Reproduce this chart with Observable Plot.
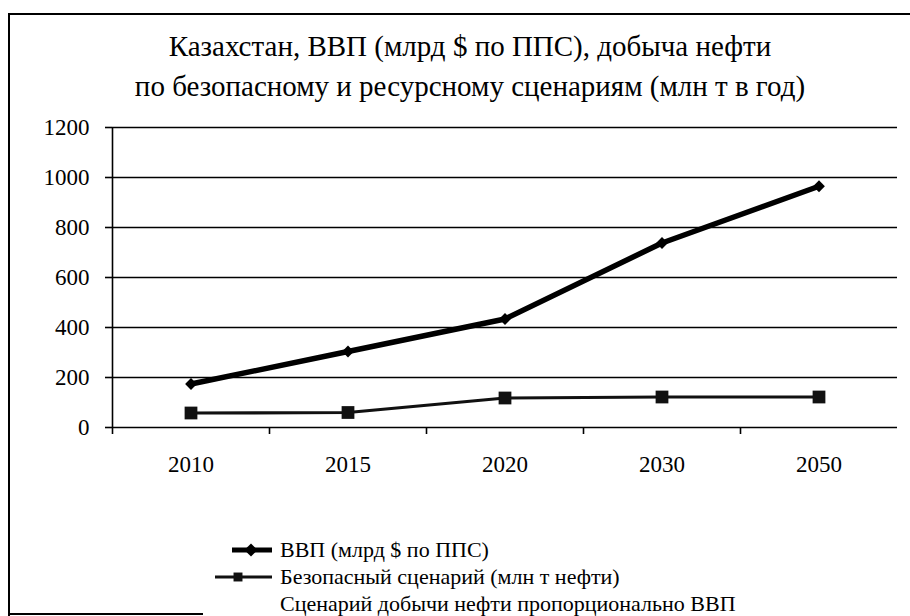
<!DOCTYPE html>
<html>
<head>
<meta charset="utf-8">
<script src="https://cdn.jsdelivr.net/npm/d3@7"></script>
<script src="https://cdn.jsdelivr.net/npm/@observablehq/plot@0.6"></script>
<style>
  body { margin: 0; background: #fff; }
  #wrap { position: relative; width: 910px; height: 616px; overflow: hidden; font-family: "Liberation Serif", serif; color: #000; background: #fff; }
  #frame { position: absolute; left: 8px; top: 13px; width: 940px; height: 603px; border-left: 2px solid #000; border-top: 2px solid #000; box-sizing: border-box; }
  #bottomEdge { position: absolute; left: 8px; top: 613px; width: 195px; height: 2px; background: #000; }
  #title { position: absolute; left: 0; width: 940px; top: 26px; text-align: center; font-size: 29px; line-height: 40px; }
  #chart { position: absolute; left: 0; top: 110px; }
  #legend { position: absolute; left: 205px; top: 536px; font-size: 22px; }
  .row { display: flex; align-items: center; height: 27px; white-space: nowrap; }
  .row svg { display: block; flex: none; margin-right: 8px; }
</style>
</head>
<body>
<div id="wrap">
  <div id="frame"></div>
  <div id="bottomEdge"></div>
  <div id="title">Казахстан, ВВП (млрд $ по ППС), добыча нефти<br>по безопасному и ресурсному сценариям (млн т в год)</div>
  <div id="chart"></div>
  <div id="legend"></div>
</div>
<script>
const years = ["2010", "2015", "2020", "2030", "2050"];
const gdp = [174, 304, 434, 738, 965];
const safe = [58, 60, 118, 122, 122];
const yTicks = [0, 200, 400, 600, 800, 1000, 1200];
const seriesNames = [
  "ВВП (млрд $ по ППС)",
  "Безопасный сценарий (млн т нефти)",
  "Сценарий добычи нефти пропорционально ВВП"
];

const idx = years.map((_, i) => i);
const gdpData = idx.map(i => ({i, v: gdp[i]}));
const safeData = idx.map(i => ({i, v: safe[i]}));
const bounds = [-0.5, ...d3.range(1, years.length).map(i => i - 0.5)];

const chart = Plot.plot({
  width: 910,
  height: 373,
  marginLeft: 112,
  marginRight: 13,
  marginTop: 17,
  marginBottom: 56,
  x: {domain: [-0.5, years.length - 0.5]},
  y: {domain: [0, 1200]},
  style: {fontFamily: "Liberation Serif, serif", fontSize: "23px", color: "#000", background: "transparent", overflow: "visible"},
  marks: [
    Plot.gridY(yTicks, {stroke: "#000", strokeOpacity: 1, strokeWidth: 1.6}),
    Plot.axisY(yTicks, {tickSize: 7, tickPadding: 16, label: null, strokeWidth: 1.6, fontSize: 23, tickFormat: d => String(d)}),
    Plot.ruleX([-0.5], {y1: 0, y2: 1200, stroke: "#000", strokeWidth: 1.6}),
    Plot.axisX(idx, {tickSize: 0, tickPadding: 28, label: null, fontSize: 23, tickFormat: i => years[i]}),
    Plot.axisX(bounds, {tickSize: 7, label: null, strokeWidth: 1.6, tickFormat: () => ""}),
    Plot.line(safeData, {x: "i", y: "v", stroke: "#111", strokeWidth: 3.2}),
    Plot.dot(safeData, {x: "i", y: "v", symbol: "square", fill: "#111", r: 7.2}),
    Plot.line(gdpData, {x: "i", y: "v", stroke: "#000", strokeWidth: 5.5}),
    Plot.dot(gdpData, {x: "i", y: "v", symbol: "diamond2", fill: "#000", r: 5.3})
  ]
});
document.getElementById("chart").appendChild(chart);

// legend
const legend = d3.select("#legend");
const swatches = [
  svg => {
    svg.append("line").attr("x1", 27).attr("x2", 67).attr("y1", 13).attr("y2", 13).attr("stroke", "#000").attr("stroke-width", 5);
    svg.append("path").attr("d", d3.symbol(d3.symbolDiamond2, 110)()).attr("transform", "translate(46,13)").attr("fill", "#000");
  },
  svg => {
    svg.append("line").attr("x1", 10).attr("x2", 67).attr("y1", 13).attr("y2", 13).attr("stroke", "#111").attr("stroke-width", 3);
    svg.append("path").attr("d", d3.symbol(d3.symbolSquare, 80)()).attr("transform", "translate(33,13)").attr("fill", "#111");
  },
  svg => {}
];
seriesNames.forEach((name, k) => {
  const row = legend.append("div").attr("class", "row");
  const svg = row.append("svg").attr("width", 67).attr("height", 26);
  swatches[k](svg);
  row.append("span").text(name);
});
</script>
</body>
</html>
